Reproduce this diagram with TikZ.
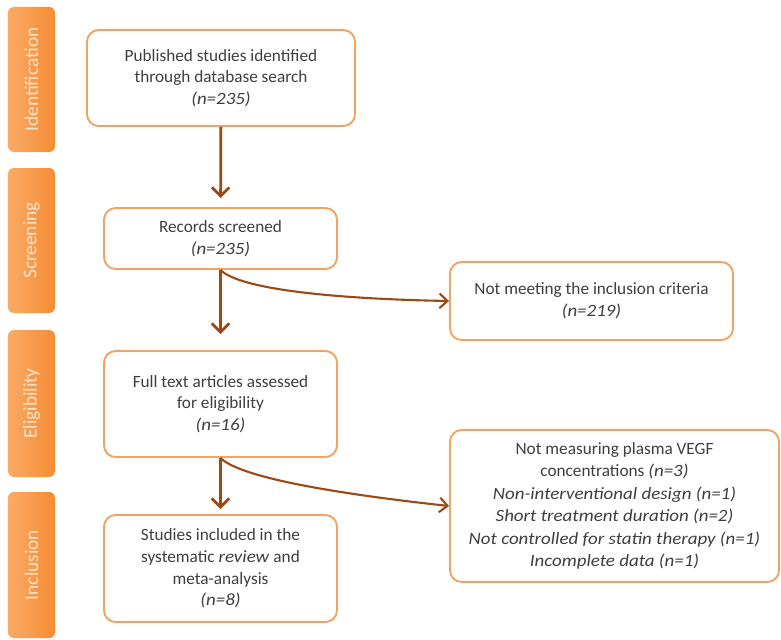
\documentclass[tikz,border=0pt]{standalone}
\usepackage{fontspec}
\setmainfont{Carlito}[ItalicFeatures={FakeStretch=1.1}]
\usetikzlibrary{
  positioning,
  arrows.meta
}
\definecolor{boxline}{HTML}{F2A262}
\definecolor{flow}{HTML}{9A4A14}
\definecolor{barleft}{HTML}{FAAA66}
\definecolor{barright}{HTML}{F48C34}
\definecolor{bartext}{HTML}{FDE3CC}
\definecolor{txt}{HTML}{3F3F3F}

\begin{document}
\begin{tikzpicture}[
  x=0.03cm, y=-0.03cm,
  stagebox/.style={draw=boxline, line width=1.6pt, rounded corners=10pt, fill=white,
               align=center, text=txt, font=\fontsize{14.7}{18.5}\selectfont},
  phase/.style={rounded corners=5pt, left color=barleft, right color=barright,
               minimum width=1.41cm, text=bartext, font=\fontsize{16.5}{18}\selectfont},
  flowarrow/.style={draw=flow, line width=2.4pt, -{Straight Barb[length=2.6mm, width=5.2mm]}},
  sidearrow/.style={draw=flow, line width=1.8pt, -{Straight Barb[length=2.4mm, width=4.4mm]}},
]
  \useasboundingbox (0,0) rectangle (781,639);

  % phase bars
  \node[phase, minimum height=4.35cm] (idbar) at (31.5, 79.5) {\rotatebox{90}{Identification}};
  \node[phase, minimum height=4.35cm] (scbar) at (31.5, 240.5) {\rotatebox{90}{Screening}};
  \node[phase, minimum height=4.41cm] (elbar) at (31.5, 403.5) {\rotatebox{90}{Eligibility}};
  \node[phase, minimum height=4.38cm] (inbar) at (31.5, 565) {\rotatebox{90}{Inclusion}};

  % main column
  \node[stagebox, minimum width=8.04cm, minimum height=2.88cm] (ident) at (221, 78) {
    Published studies identified\\
    through database search\\
    \textit{(n=235)}
  };
  \node[stagebox, minimum width=6.99cm, minimum height=1.83cm] (screen) at (220.5, 238.5) {
    Records screened\\
    \textit{(n=235)}
  };
  \node[stagebox, minimum width=6.99cm, minimum height=3.18cm] (elig) at (220.5, 404) {
    Full text articles assessed\\
    for eligibility\\
    \textit{(n=16)}
  };
  \node[stagebox, minimum width=6.99cm, minimum height=3.21cm] (incl) at (220.5, 568.5) {
    Studies included in the\\
    systematic \textit{review} and\\
    meta-analysis\\
    \textit{(n=8)}
  };

  % excluded
  \node[stagebox, minimum width=8.49cm, minimum height=2.34cm] (excl1) at (591.5, 301) {
    Not meeting the inclusion criteria\\
    \textit{(n=219)}
  };
  \node[stagebox, minimum width=9.87cm, minimum height=4.56cm,
        font=\fontsize{14.7}{19.2}\selectfont] (excl2) at (614.5, 506) {
    Not measuring plasma VEGF\\
    concentrations \textit{(n=3)}\\
    \textit{Non-interventional design (n=1)}\\
    \textit{Short treatment duration (n=2)}\\
    \textit{Not controlled for statin therapy (n=1)}\\
    \textit{Incomplete data (n=1)}
  };

  \draw[flowarrow, shorten >=0.27cm] (ident) -- (screen);
  \draw[flowarrow, shorten >=0.48cm] (screen) -- (elig);
  \draw[flowarrow, shorten >=0.15cm] (elig) -- (incl);

  \draw[sidearrow] (screen.south) .. controls +(20,20) and +(-110,-2) .. (excl1.west);
  \draw[sidearrow] (elig.south) .. controls +(20,20) and +(-110,-12) .. (excl2.west);
\end{tikzpicture}
\end{document}
